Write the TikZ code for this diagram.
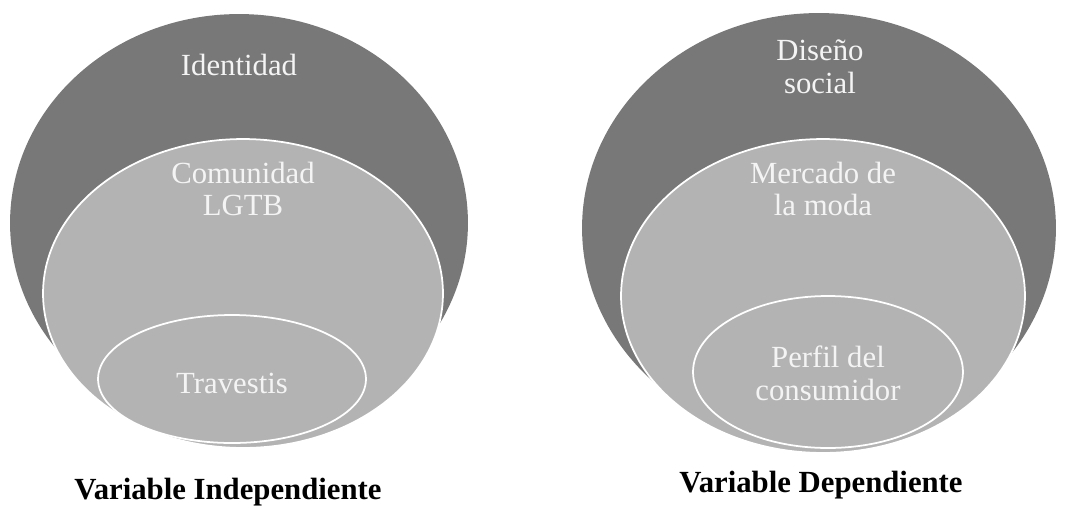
\documentclass[tikz,border=0pt]{standalone}
\usepackage{fontspec}
\setmainfont{Liberation Serif}
\usepackage{xcolor}
\usetikzlibrary{shapes.geometric}

\definecolor{darkring}{HTML}{787878}
\definecolor{lightring}{HTML}{B3B3B3}
\definecolor{ringtext}{HTML}{F4F4F4}

\begin{document}
\begin{tikzpicture}[x=0.02cm, y=-0.02cm,
	outer/.style = {ellipse, fill=darkring, inner sep=0pt},
	inner/.style = {ellipse, fill=lightring, draw=white, line width=1pt, inner sep=0pt},
	ringlabel/.style = {text=ringtext, align=center, font=\fontsize{17.5}{18.6}\selectfont},
	varlabel/.style = {anchor=base, font=\fontsize{17.5}{20}\selectfont\bfseries}]
		\useasboundingbox (0,0) rectangle (1066,505);
		
		% variable independiente
		\begin{scope}
			\node[outer, minimum width=9.16cm, minimum height=8.36cm] (ident) at (239,223) {};
			\node[inner, minimum width=8cm, minimum height=6.18cm] (comun) at (243,293.5) {};
			\node[inner, minimum width=5.36cm, minimum height=2.56cm] (trav) at (232,379) {};
			
			\node[ringlabel] (identtxt) at (239,65) {Identidad};
			\node[ringlabel] (comuntxt) at (243,189) {Comunidad\\LGTB};
			\node[ringlabel] (travtxt) at (232,383) {Travestis};
			\node[varlabel] (indep) at (228,499) {Variable Independiente};
		\end{scope}
		
		% variable dependiente
		\begin{scope}
			\node[outer, minimum width=9.48cm, minimum height=8.6cm] (diseno) at (819,228) {};
			\node[inner, minimum width=8.08cm, minimum height=6.28cm] (mercado) at (823,296) {};
			\node[inner, minimum width=5.4cm, minimum height=3.04cm] (perfil) at (828,372) {};
			
			\node[ringlabel] (disenotxt) at (820,67) {Diseño\\social};
			\node[ringlabel] (mercadotxt) at (823,189) {Mercado de\\la moda};
			\node[ringlabel] (perfiltxt) at (828,373) {Perfil del\\consumidor};
			\node[varlabel] (dep) at (821,492) {Variable Dependiente};
		\end{scope}
	\end{tikzpicture}
\end{document}
